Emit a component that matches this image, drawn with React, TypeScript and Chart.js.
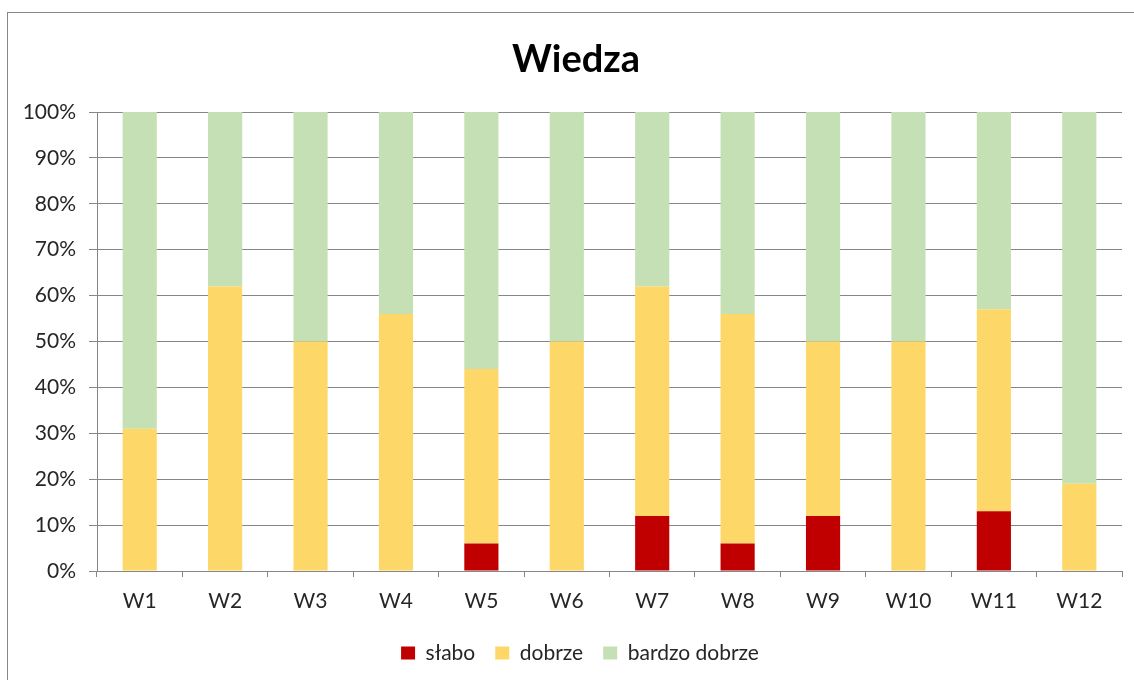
import React, { useEffect, useRef } from "react";
import { Chart, registerables } from "chart.js";

Chart.register(...registerables);

const categories = ["W1", "W2", "W3", "W4", "W5", "W6", "W7", "W8", "W9", "W10", "W11", "W12"];
const slabo = [0, 0, 0, 0, 6, 0, 12, 6, 12, 0, 13, 0];
const dobrze = [31, 62, 50, 56, 38, 50, 50, 50, 38, 50, 44, 19];
const bardzoDobrze = [69, 38, 50, 44, 56, 50, 38, 44, 50, 50, 43, 81];
const yTicks = [0, 10, 20, 30, 40, 50, 60, 70, 80, 90, 100];
const titleText = "Wiedza";

const FONT = "Lato, 'Open Sans', sans-serif";

const frame = {
  id: "frame",
  afterLayout(chart: any) {
    const lg = chart.legend;
    if (lg) {
      lg.left += 19;
      lg.right += 19;
    }
  },
  beforeDraw(chart: any) {
    const ctx = chart.ctx;
    ctx.save();
    ctx.fillStyle = "#ffffff";
    ctx.fillRect(0, 0, chart.width, chart.height);
    ctx.strokeStyle = "#878787";
    ctx.lineWidth = 1;
    ctx.strokeRect(7.5, 12.5, 3000, 3000);
    ctx.restore();
  },
  afterDraw(chart: any) {
    const ctx = chart.ctx;
    ctx.save();
    ctx.fillStyle = "#000000";
    ctx.font = "bold 38px " + FONT;
    ctx.textAlign = "center";
    ctx.textBaseline = "alphabetic";
    ctx.fillText(titleText, 576, 71.5);
    ctx.restore();
  },
};

export default function App() {
  const ref = useRef<HTMLCanvasElement>(null);
  useEffect(() => {
    const chart = new Chart(ref.current!, {
      type: "bar",
      data: {
        labels: categories,
        datasets: [
          { label: "słabo", data: slabo, backgroundColor: "#C00000" },
          { label: "dobrze", data: dobrze, backgroundColor: "#FDD868" },
          { label: "bardzo dobrze", data: bardzoDobrze, backgroundColor: "#C5E0B4" },
        ],
      },
      options: {
        animation: false,
        responsive: false,
        layout: { padding: { left: 0, right: 12, top: 112, bottom: 6.5 } },
        datasets: { bar: { barPercentage: 0.4, categoryPercentage: 1 } },
        plugins: {
          title: { display: false },
          legend: {
            position: "bottom",
            labels: {
              color: "#262626",
              font: { family: FONT, size: 21 },
              boxWidth: 14,
              boxHeight: 13,
              padding: 20,
            },
          },
          tooltip: { enabled: false },
        },
        scales: {
          x: {
            stacked: true,
            grid: { display: true, drawOnChartArea: false, color: "#868686", tickLength: 6, offset: true },
            border: { color: "#868686" },
            ticks: { color: "#262626", font: { family: FONT, size: 21 }, padding: 12, maxRotation: 0 },
            afterFit(scale: any) {
              scale.height = 51.5;
            },
          },
          y: {
            stacked: true,
            min: 0,
            max: 100,
            afterBuildTicks(scale: any) {
              scale.ticks = yTicks.map((v) => ({ value: v }));
            },
            grid: { color: "#868686", tickLength: 8 },
            border: { color: "#868686" },
            ticks: {
              color: "#262626",
              font: { family: FONT, size: 21 },
              padding: 13,
              callback: (v: any) => v + "%",
            },
            afterFit(scale: any) {
              scale.width = 97;
            },
          },
        },
      },
      plugins: [frame],
    });
    return () => chart.destroy();
  }, []);
  return (
    <div style={{ position: "absolute", left: 0, top: 0, width: 1134, height: 680, overflow: "hidden" }}>
      <canvas ref={ref} width={1134} height={680} style={{ display: "block" }} />
    </div>
  );
}
